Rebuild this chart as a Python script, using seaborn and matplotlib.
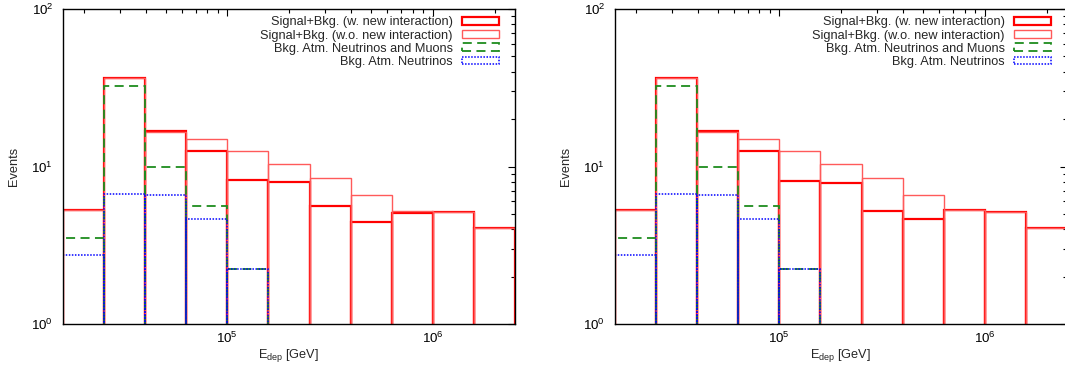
import numpy as np
import pandas as pd
import matplotlib
matplotlib.use("Agg")
import matplotlib.pyplot as plt
import seaborn as sns
from matplotlib.ticker import LogLocator, NullFormatter

# ---- data ----
edge_exponents = [4.2, 4.4, 4.6, 4.8, 5.0, 5.2, 5.4, 5.6, 5.8, 6.0, 6.2, 6.4]

# left panel
left_w_new = [5.3, 36.6, 16.9, 12.6, 8.2, 8.0, 5.6, 4.46, 5.1, 5.17, 4.07]
left_wo_new = [5.3, 36.6, 16.5, 14.9, 12.5, 10.4, 8.4, 6.6, 5.25, 5.17, 4.07]
left_bkg_mu = [3.5, 32.4, 10.0, 5.64, 2.23]
left_bkg_nu = [2.75, 6.7, 6.6, 4.64, 2.23]

# right panel
right_w_new = [5.3, 36.6, 16.9, 12.6, 8.09, 7.89, 5.24, 4.64, 5.3, 5.17, 4.07]
right_wo_new = [5.3, 36.6, 16.5, 14.9, 12.5, 10.4, 8.4, 6.6, 5.3, 5.17, 4.07]
right_bkg_mu = [3.5, 32.4, 10.0, 5.64, 2.23]
right_bkg_nu = [2.75, 6.7, 6.6, 4.64, 2.23]

labels = ["Signal+Bkg. (w. new interaction)",
          "Signal+Bkg. (w.o. new interaction)",
          "Bkg. Atm. Neutrinos and Muons",
          "Bkg. Atm. Neutrinos"]

sns.set_style("white")
plt.rcParams["font.family"] = ["Liberation Sans", "DejaVu Sans"]
plt.rcParams["mathtext.fontset"] = "custom"
plt.rcParams["mathtext.rm"] = "Liberation Sans"
plt.rcParams["mathtext.it"] = "Liberation Sans:italic"
plt.rcParams["mathtext.bf"] = "Liberation Sans:bold"
plt.rcParams["font.size"] = 9.2

W, H = 1065, 367
fig = plt.figure(figsize=(W / 100, H / 100), dpi=100)

edges = np.array([10 ** e for e in edge_exponents])
centers = np.sqrt(edges[:-1] * edges[1:])

styles = [
    dict(color="#ff0000", linewidth=1.6, linestyle="-"),
    dict(color="#ff5a5a", linewidth=1.0, linestyle="-"),
    dict(color="#1e8c1e", linewidth=1.3, linestyle=(0, (5, 3))),
    dict(color="#0000ff", linewidth=1.1, linestyle=(0, (1, 1))),
]


def panel(ax, series):
    for vals, st, lab in zip(series, styles, labels):
        n = len(vals)
        df = pd.DataFrame({"E": centers[:n], "N": vals})
        sns.histplot(data=df, x="E", weights="N", bins=list(edges[:n + 1]),
                     element="bars", fill=False, ax=ax, label=lab,
                     stat="count", **st)
    ax.set_xscale("log")
    ax.set_yscale("log")
    ax.set_xlim(edges[0], edges[-1])
    ax.set_ylim(1, 100)
    ax.xaxis.set_major_locator(LogLocator(base=10, numticks=20))
    ax.xaxis.set_minor_locator(LogLocator(base=10, subs=np.arange(2, 10), numticks=50))
    ax.xaxis.set_minor_formatter(NullFormatter())
    ax.yaxis.set_minor_formatter(NullFormatter())
    ax.tick_params(which="both", direction="in", top=True, right=True,
                   width=0.8, colors="black", labelsize=9.6)
    ax.tick_params(which="major", length=5)
    ax.tick_params(which="minor", length=3)
    ax.tick_params(axis="y", pad=7)
    ax.tick_params(axis="x", pad=5)
    for sp in ax.spines.values():
        sp.set_linewidth(1.0)
        sp.set_color("black")
    ax.set_xlabel(r"E$_{\rm dep}$ [GeV]", fontsize=9.2)
    ax.set_ylabel("Events", fontsize=9.2)
    ax.xaxis.set_label_coords(0.5, -0.072)
    ax.yaxis.set_label_coords(-0.096, 0.5)
    h, l = ax.get_legend_handles_labels()
    ax.legend(h, l, loc="upper right", bbox_to_anchor=(0.970, 0.985),
              frameon=False, markerfirst=False,
              fontsize=9.2, handlelength=2.9, handleheight=0.55,
              handletextpad=0.7, labelspacing=0.1, borderaxespad=0.0,
              borderpad=0.2)


bottom = (H - 324) / H
height = (324 - 9) / H
ax1 = fig.add_axes([63 / W, bottom, 452 / W, height])
ax2 = fig.add_axes([615 / W, bottom, 452 / W, height])
panel(ax1, [left_w_new, left_wo_new, left_bkg_mu, left_bkg_nu])
panel(ax2, [right_w_new, right_wo_new, right_bkg_mu, right_bkg_nu])

fig.savefig("out.png", dpi=100)
